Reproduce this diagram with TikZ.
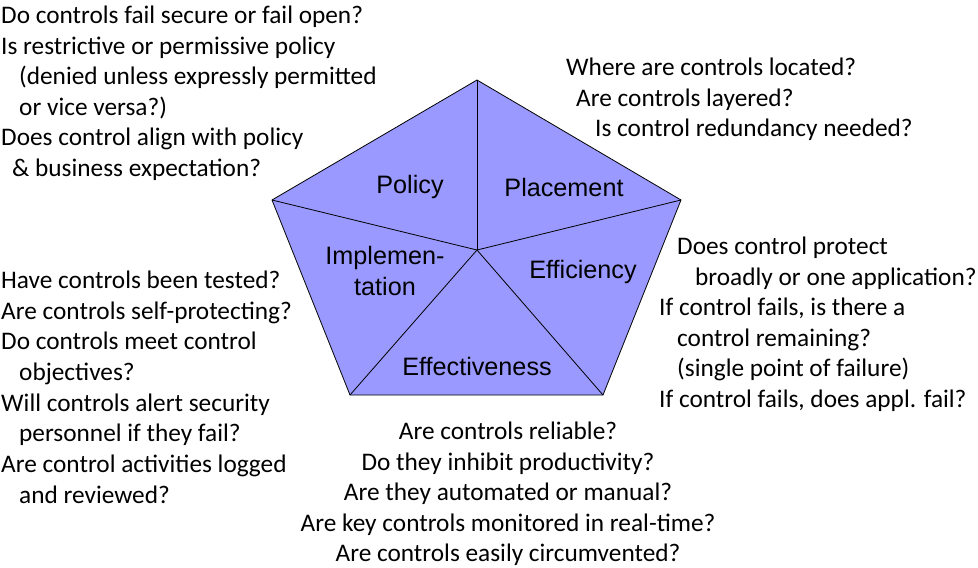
\documentclass[tikz,border=0pt]{standalone}
\usepackage{fontspec}
\setmainfont{Carlito}
\newfontfamily\armfont{Liberation Sans}
\usepackage{tikz}
\usetikzlibrary{positioning}
\definecolor{pentfill}{HTML}{9999FF}

\begin{document}
\begin{tikzpicture}[
  x=1pt, y=-1pt,
  q/.style={anchor=base west, inner sep=0pt, font=\fontsize{25.3}{30}\selectfont},
  qc/.style={anchor=base, inner sep=0pt, font=\fontsize{25.3}{30}\selectfont},
  seg/.style={inner sep=0pt, align=center,
              font=\armfont\fontsize{25.2}{31}\selectfont},
  spoke/.style={draw=black, line width=0.8pt},
]
\useasboundingbox (0,0) rectangle (978,568);

% --- Pentagon corners ---
\coordinate (ctr) at (477,250);
\coordinate (ptop) at (477,80);
\coordinate (prt)  at (681,200);
\coordinate (pbr)  at (603,395);
\coordinate (pbl)  at (350,395);
\coordinate (plt)  at (272,200);

\fill[pentfill] (ptop) -- (prt) -- (pbr) -- (pbl) -- (plt) -- cycle;
\foreach \c in {ptop,prt,pbr,pbl,plt}
  \draw[spoke] (ctr) -- (\c);
\draw[spoke, line join=miter] (ptop) -- (prt) -- (pbr) -- (pbl) -- (plt) -- cycle;

% --- Segment labels ---
\node[seg] (policy)  at (410,187) {Policy};
\node[seg] (place)   at (564,187) {Placement};
\node[seg] (impl)    at (385,271) {Implemen-\\tation};
\node[seg] (effic)   at (583,272) {Efficiency};
\node[seg] (effect)  at (477,366) {Effectiveness};

% --- Policy questions (top left) ---
\foreach \x/\y/\t [count=\i] in {
  1/23.5/{Do controls fail secure or fail open?},
  1/54/{Is restrictive or permissive policy},
  19/84.5/{(denied unless expressly permitted},
  19/115/{or vice versa?)},
  1/145.5/{Does control align with policy},
  12/176/{\& business expectation?}}
  \node[q] (pol\i) at (\x,\y) {\t};

% --- Placement questions (top right) ---
\foreach \x/\y/\t [count=\i] in {
  566/75.5/{Where are controls located?},
  576/106/{Are controls layered?},
  595/136.5/{Is control redundancy needed?}}
  \node[q] (plc\i) at (\x,\y) {\t};

% --- Implementation questions (left) ---
\foreach \x/\y/\t [count=\i] in {
  1/288.4/{Have controls been tested?},
  1/319.1/{Are controls self-protecting?},
  1/349.8/{Do controls meet control},
  19/380.5/{objectives?},
  1/411.2/{Will controls alert security},
  19/441.9/{personnel if they fail?},
  1/472.6/{Are control activities logged},
  19/503.3/{and reviewed?}}
  \node[q] (imp\i) at (\x,\y) {\t};

% --- Efficiency questions (right) ---
\foreach \x/\y/\t [count=\i] in {
  677/254.5/{Does control protect},
  695/285/{broadly or one application?},
  659/315.5/{If control fails, is there a},
  677/346/{control remaining?},
  677/376.5/{(single point of failure)},
  659/407/{If control fails, does appl. fail?}}
  \node[q] (eff\i) at (\x,\y) {\t};

% --- Effectiveness questions (bottom) ---
\foreach \y/\t [count=\i] in {
  439.7/{Are controls reliable?},
  470.2/{Do they inhibit productivity?},
  500.7/{Are they automated or manual?},
  531.2/{Are key controls monitored in real-time?},
  561.7/{Are controls easily circumvented?}}
  \node[qc] (eft\i) at (508,\y) {\t};

\end{tikzpicture}
\end{document}
